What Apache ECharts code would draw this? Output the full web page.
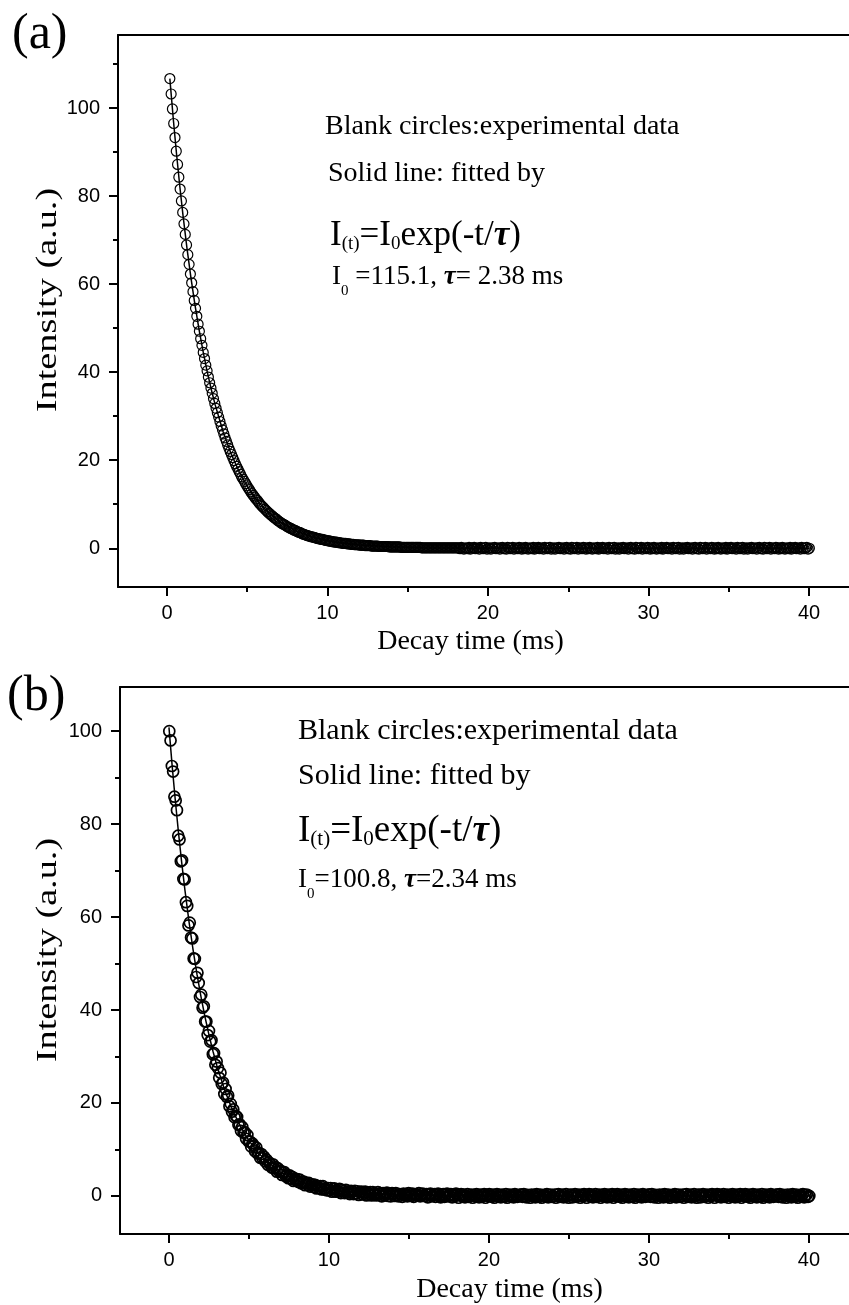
<!DOCTYPE html>
<html>
<head>
<meta charset="utf-8">
<title>Decay curves</title>
<script src="https://cdn.jsdelivr.net/npm/echarts@6/dist/echarts.min.js"></script>
<style>
html,body{margin:0;padding:0;background:#fff;}
#chart{width:849px;height:1305px;}
</style>
</head>
<body>
<div id="chart"></div>
<script>
// 衰减时间 (ms)，(b) 用全部点，(a) 从第三个点 0.18 开始
var decayTime = [
  0.02,0.1,0.18,0.26,0.34,0.42,0.5,0.58,0.66,0.74,0.82,0.9,0.98,1.06,1.14,1.22,1.3,1.38,1.46,1.54,1.62,1.7,1.78,1.86,1.94,
  2.02,2.1,2.18,2.26,2.34,2.42,2.5,2.58,2.66,2.74,2.82,2.9,2.98,3.06,3.14,3.22,3.3,3.38,3.46,3.54,3.62,3.7,3.78,3.86,3.94,
  4.02,4.1,4.18,4.26,4.34,4.42,4.5,4.58,4.66,4.74,4.82,4.9,4.98,5.06,5.14,5.22,5.3,5.38,5.46,5.54,5.62,5.7,5.78,5.86,5.94,
  6.02,6.1,6.18,6.26,6.34,6.42,6.5,6.58,6.66,6.74,6.82,6.9,6.98,7.06,7.14,7.22,7.3,7.38,7.46,7.54,7.62,7.7,7.78,7.86,7.94,
  8.02,8.1,8.18,8.26,8.34,8.42,8.5,8.58,8.66,8.74,8.82,8.9,8.98,9.06,9.14,9.22,9.3,9.38,9.46,9.54,9.62,9.7,9.78,9.86,9.94,
  10.02,10.1,10.18,10.26,10.34,10.42,10.5,10.58,10.66,10.74,10.82,10.9,10.98,11.06,11.14,11.22,11.3,11.38,11.46,11.54,11.62,11.7,11.78,11.86,11.94,
  12.02,12.1,12.18,12.26,12.34,12.42,12.5,12.58,12.66,12.74,12.82,12.9,12.98,13.06,13.14,13.22,13.3,13.38,13.46,13.54,13.62,13.7,13.78,13.86,13.94,
  14.02,14.1,14.18,14.26,14.34,14.42,14.5,14.58,14.66,14.74,14.82,14.9,14.98,15.06,15.14,15.22,15.3,15.38,15.46,15.54,15.62,15.7,15.78,15.86,15.94,
  16.02,16.1,16.18,16.26,16.34,16.42,16.5,16.58,16.66,16.74,16.82,16.9,16.98,17.06,17.14,17.22,17.3,17.38,17.46,17.54,17.62,17.7,17.78,17.86,17.94,
  18.02,18.1,18.18,18.26,18.34,18.42,18.5,18.58,18.66,18.74,18.82,18.9,18.98,19.06,19.14,19.22,19.3,19.38,19.46,19.54,19.62,19.7,19.78,19.86,19.94,
  20.02,20.1,20.18,20.26,20.34,20.42,20.5,20.58,20.66,20.74,20.82,20.9,20.98,21.06,21.14,21.22,21.3,21.38,21.46,21.54,21.62,21.7,21.78,21.86,21.94,
  22.02,22.1,22.18,22.26,22.34,22.42,22.5,22.58,22.66,22.74,22.82,22.9,22.98,23.06,23.14,23.22,23.3,23.38,23.46,23.54,23.62,23.7,23.78,23.86,23.94,
  24.02,24.1,24.18,24.26,24.34,24.42,24.5,24.58,24.66,24.74,24.82,24.9,24.98,25.06,25.14,25.22,25.3,25.38,25.46,25.54,25.62,25.7,25.78,25.86,25.94,
  26.02,26.1,26.18,26.26,26.34,26.42,26.5,26.58,26.66,26.74,26.82,26.9,26.98,27.06,27.14,27.22,27.3,27.38,27.46,27.54,27.62,27.7,27.78,27.86,27.94,
  28.02,28.1,28.18,28.26,28.34,28.42,28.5,28.58,28.66,28.74,28.82,28.9,28.98,29.06,29.14,29.22,29.3,29.38,29.46,29.54,29.62,29.7,29.78,29.86,29.94,
  30.02,30.1,30.18,30.26,30.34,30.42,30.5,30.58,30.66,30.74,30.82,30.9,30.98,31.06,31.14,31.22,31.3,31.38,31.46,31.54,31.62,31.7,31.78,31.86,31.94,
  32.02,32.1,32.18,32.26,32.34,32.42,32.5,32.58,32.66,32.74,32.82,32.9,32.98,33.06,33.14,33.22,33.3,33.38,33.46,33.54,33.62,33.7,33.78,33.86,33.94,
  34.02,34.1,34.18,34.26,34.34,34.42,34.5,34.58,34.66,34.74,34.82,34.9,34.98,35.06,35.14,35.22,35.3,35.38,35.46,35.54,35.62,35.7,35.78,35.86,35.94,
  36.02,36.1,36.18,36.26,36.34,36.42,36.5,36.58,36.66,36.74,36.82,36.9,36.98,37.06,37.14,37.22,37.3,37.38,37.46,37.54,37.62,37.7,37.78,37.86,37.94,
  38.02,38.1,38.18,38.26,38.34,38.42,38.5,38.58,38.66,38.74,38.82,38.9,38.98,39.06,39.14,39.22,39.3,39.38,39.46,39.54,39.62,39.7,39.78,39.86,39.94,
  40.02
];

// (a) 实验点强度，对应 decayTime[2] 以后
var intensityA = [
  106.7,103.2,99.8,96.5,93.3,90.2,87.2,84.3,81.6,78.9,76.3,73.7,71.3,68.9,66.7,64.5,62.3,60.3,58.3,56.3,54.5,52.7,50.9,49.3,47.6,
  46.1,44.5,43.1,41.6,40.3,38.9,37.6,36.4,35.2,34.0,32.9,31.8,30.8,29.8,28.8,27.8,26.9,26.0,25.1,24.3,23.5,22.7,22.0,21.3,20.6,
  19.9,19.2,18.6,18.0,17.4,16.8,16.2,15.7,15.2,14.7,14.2,13.7,13.3,12.8,12.4,12.0,11.6,11.2,10.9,10.5,10.1,9.8,9.5,9.2,8.9,
  8.6,8.3,8.0,7.8,7.5,7.3,7.0,6.8,6.6,6.3,6.1,5.9,5.7,5.5,5.4,5.2,5.0,4.8,4.7,4.5,4.4,4.2,4.1,4.0,3.8,
  3.7,3.6,3.5,3.3,3.2,3.1,3.0,2.9,2.8,2.7,2.6,2.6,2.5,2.4,2.3,2.2,2.2,2.1,2.0,2.0,1.9,1.8,1.8,1.7,1.7,
  1.6,1.5,1.5,1.4,1.4,1.4,1.3,1.3,1.2,1.2,1.1,1.1,1.1,1.0,1.0,1.0,0.9,0.9,0.9,0.8,0.8,0.8,0.8,0.7,0.7,
  0.7,0.7,0.6,0.6,0.6,0.6,0.6,0.5,0.5,0.5,0.5,0.5,0.5,0.4,0.4,0.4,0.4,0.4,0.4,0.4,0.4,0.3,0.3,0.3,0.3,
  0.3,0.3,0.3,0.3,0.3,0.2,0.2,0.2,0.2,0.2,0.2,0.2,0.2,0.2,0.2,0.2,0.2,0.2,0.2,0.2,0.2,0.1,0.1,0.1,0.1,
  0.1,0.1,0.1,0.1,0.1,0.1,0.1,0.1,0.1,0.1,0.1,0.1,0.1,0.1,0.1,0.1,0.1,0.1,0.1,0.1,0.1,0.1,0.1,0.1,0.1,
  0.1,-0.1,0.2,0,-0.2,0.1,0,-0.1,0.2,-0.2,0.1,0,0.2,-0.1,0,0.1,-0.2,0.2,0,-0.1,0.1,0.2,-0.2,0,0.1,
  -0.2,0.1,0,0.2,-0.1,0,0.1,-0.2,0.1,0.2,-0.1,0,-0.2,0.2,0.1,-0.1,0,0.2,-0.2,0.1,0,-0.1,0.2,0.1,-0.2,
  0.1,-0.1,0.2,0,-0.2,0.1,0,-0.1,0.2,-0.2,0.1,0,0.2,-0.1,0,0.1,-0.2,0.2,0,-0.1,0.1,0.2,-0.2,0,0.1,
  -0.2,0.1,0,0.2,-0.1,0,0.1,-0.2,0.1,0.2,-0.1,0,-0.2,0.2,0.1,-0.1,0,0.2,-0.2,0.1,0,-0.1,0.2,0.1,-0.2,
  0.1,-0.1,0.2,0,-0.2,0.1,0,-0.1,0.2,-0.2,0.1,0,0.2,-0.1,0,0.1,-0.2,0.2,0,-0.1,0.1,0.2,-0.2,0,0.1,
  -0.2,0.1,0,0.2,-0.1,0,0.1,-0.2,0.1,0.2,-0.1,0,-0.2,0.2,0.1,-0.1,0,0.2,-0.2,0.1,0,-0.1,0.2,0.1,-0.2,
  0.1,-0.1,0.2,0,-0.2,0.1,0,-0.1,0.2,-0.2,0.1,0,0.2,-0.1,0,0.1,-0.2,0.2,0,-0.1,0.1,0.2,-0.2,0,0.1,
  -0.2,0.1,0,0.2,-0.1,0,0.1,-0.2,0.1,0.2,-0.1,0,-0.2,0.2,0.1,-0.1,0,0.2,-0.2,0.1,0,-0.1,0.2,0.1,-0.2,
  0.1,-0.1,0.2,0,-0.2,0.1,0,-0.1,0.2,-0.2,0.1,0,0.2,-0.1,0,0.1,-0.2,0.2,0,-0.1,0.1,0.2,-0.2,0,0.1,
  -0.2,0.1,0,0.2,-0.1,0,0.1,-0.2,0.1,0.2,-0.1,0,-0.2,0.2,0.1,-0.1,0,0.2,-0.2,0.1,0,-0.1,0.2,0.1,-0.2,
  0.1,-0.1,0.2,0,-0.2,0.1,0,-0.1,0.2,-0.2,0.1,0,0.2,-0.1,0,0.1,-0.2,0.2,0,-0.1,0.1,0.2,-0.2,0
];

// (b) 实验点强度，对应全部 decayTime
var intensityB = [
  100.0,98.0,92.5,91.3,85.9,85.1,83.0,77.5,76.7,72.0,72.2,68.2,68.1,63.2,62.4,58.2,58.8,55.6,55.4,51.1,51.0,47.1,48.0,45.8,42.8,
  43.3,40.5,40.8,37.5,37.5,34.6,35.5,33.2,33.5,30.5,30.7,28.2,28.9,27.5,25.4,26.5,24.1,24.4,21.9,23.0,21.3,21.6,19.3,19.8,18.1,
  18.6,16.9,17.2,17.0,15.3,15.4,14.0,14.8,13.6,13.7,12.3,13.1,11.7,11.7,10.6,11.3,10.8,9.6,10.4,9.1,9.3,8.2,9.0,8.1,8.4,
  7.4,7.8,6.7,7.2,6.8,6.1,6.8,5.9,6.2,5.2,5.9,5.2,5.4,4.5,5.0,5.1,4.2,4.4,3.8,4.4,3.7,4.1,3.2,3.7,3.3,
  3.6,3.0,3.5,2.7,3.0,3.1,2.3,2.8,2.4,2.8,2.0,2.4,2.5,1.9,2.4,1.6,2.1,1.7,2.1,1.4,2.1,1.4,1.6,1.2,1.7,
  1.2,1.7,0.9,1.5,1.6,0.9,1.2,0.9,1.5,0.6,1.3,1.0,0.6,1.3,0.7,1.0,0.4,1.1,0.9,0.4,1.1,0.5,1.0,0.2,0.8,
  0.9,0.3,0.7,0.9,0.1,0.7,0.4,0.8,0.1,0.8,0.2,0.5,0.1,0.8,0.3,0.6,-0.1,0.6,0.1,0.4,0.7,0,0.5,-0.1,0.6,
  0.5,0,0.6,0.2,-0.1,0.4,0.3,-0.2,0.5,0.1,0.4,-0.1,0.6,0.3,0,0.5,-0.2,0.2,0.4,0.1,0.6,-0.1,0.3,0.5,0,
  0,0.4,-0.3,0.3,0.5,-0.1,0.1,0.4,-0.2,0.2,0.5,0,-0.3,0.3,0.4,-0.2,0.2,0.5,-0.1,0.1,0.4,-0.3,0.3,0,0.5,
  0.2,-0.4,0.1,0.4,-0.1,0.3,-0.3,0,0.4,-0.2,0.1,0.3,-0.4,0.2,-0.1,0.4,0,-0.3,0.3,-0.2,0.1,0.4,-0.4,0.2,0,
  0.4,0,-0.2,0.3,-0.4,0.1,0.4,-0.1,0.2,-0.3,0.3,0,-0.2,0.4,-0.4,0.1,0.3,-0.1,0.2,-0.3,0.4,0.1,-0.2,0,0.3,
  0.3,-0.2,0.4,0,-0.3,0.2,0.1,-0.4,0.3,-0.1,0.2,-0.3,0.4,0.1,-0.2,0.3,-0.4,0,0.2,-0.1,0.4,-0.3,0.1,0.3,-0.2,
  -0.1,0.3,-0.4,0.2,0.4,-0.2,0,0.3,-0.3,0.1,0.4,-0.1,-0.4,0.2,0.3,-0.3,0.1,0.4,-0.2,0,0.3,-0.4,0.2,-0.1,0.4,
  0.2,-0.4,0.1,0.4,-0.1,0.3,-0.3,0,0.4,-0.2,0.1,0.3,-0.4,0.2,-0.1,0.4,0,-0.3,0.3,-0.2,0.1,0.4,-0.4,0.2,0,
  0.4,0,-0.2,0.3,-0.4,0.1,0.4,-0.1,0.2,-0.3,0.3,0,-0.2,0.4,-0.4,0.1,0.3,-0.1,0.2,-0.3,0.4,0.1,-0.2,0,0.3,
  0.3,-0.2,0.4,0,-0.3,0.2,0.1,-0.4,0.3,-0.1,0.2,-0.3,0.4,0.1,-0.2,0.3,-0.4,0,0.2,-0.1,0.4,-0.3,0.1,0.3,-0.2,
  -0.1,0.3,-0.4,0.2,0.4,-0.2,0,0.3,-0.3,0.1,0.4,-0.1,-0.4,0.2,0.3,-0.3,0.1,0.4,-0.2,0,0.3,-0.4,0.2,-0.1,0.4,
  0.2,-0.4,0.1,0.4,-0.1,0.3,-0.3,0,0.4,-0.2,0.1,0.3,-0.4,0.2,-0.1,0.4,0,-0.3,0.3,-0.2,0.1,0.4,-0.4,0.2,0,
  0.4,0,-0.2,0.3,-0.4,0.1,0.4,-0.1,0.2,-0.3,0.3,0,-0.2,0.4,-0.4,0.1,0.3,-0.1,0.2,-0.3,0.4,0.1,-0.2,0,0.3,
  0.3,-0.2,0.4,0,-0.3,0.2,0.1,-0.4,0.3,-0.1,0.2,-0.3,0.4,0.1,-0.2,0.3,-0.4,0,0.2,-0.1,0.4,-0.3,0.1,0.3,-0.2,
  0
];

// 拟合实线
var fitTimeA = [0.18,0.4,0.6,0.8,1,1.25,1.5,1.75,2,2.25,2.5,2.75,3,3.5,4,4.5,5,5.5,6,7,8,9,10,11,12,14,16,18,20,25,30,40];
var fitA = [106.7,97.29,89.46,82.24,75.61,68.07,61.29,55.17,49.67,44.72,40.26,36.25,32.63,26.45,21.44,17.37,14.08,11.41,9.25,6.08,3.99,2.62,1.72,1.13,0.74,0.32,0.14,0.06,0.03,0,0,0];
var fitTimeB = [0,0.2,0.4,0.6,0.8,1,1.25,1.5,1.75,2,2.25,2.5,2.75,3,3.5,4,4.5,5,5.5,6,7,8,9,10,11,12,14,16,18,20,25,30,40];
var fitB = [100.8,92.54,84.96,78.00,71.61,65.74,59.08,53.10,47.71,42.88,38.54,34.63,31.12,27.97,22.59,18.24,14.73,11.90,9.61,7.76,5.06,3.30,2.15,1.40,0.92,0.60,0.25,0.11,0.05,0.02,0,0,0];

// 刻度
var xMajor = [0,10,20,30,40];
var xMinor = [5,15,25,35];
var yMajor = [0,20,40,60,80,100];
var yMinorA = [10,30,50,70,90,110];
var yMinorB = [10,30,50,70,90];

var serif = "'Liberation Serif','Times New Roman',serif";
var sans = "'Liberation Sans',Arial,sans-serif";

function pairs(t, v) {
  var out = [];
  for (var i = 0; i < v.length; i++) out.push([t[i], v[i]]);
  return out;
}

// 每个 grid 三根 x 轴: 主刻度+标签, 次刻度, 顶部边框线
function xAxes(g, lo, hi, gap, namePad) {
  return [{
    gridIndex: g, type: 'value', position: 'bottom', min: lo, max: hi,
    axisLine: {onZero: false, lineStyle: {color: '#000', width: 2}},
    axisTick: {length: 9, lineStyle: {color: '#000', width: 2}, customValues: xMajor},
    axisLabel: {customValues: xMajor, color: '#000', fontFamily: sans, fontSize: 20, margin: 16},
    splitLine: {show: false},
    name: 'Decay time (ms)', nameLocation: 'middle', nameGap: gap,
    nameTextStyle: {fontFamily: serif, fontSize: 28, color: '#000', padding: namePad}
  }, {
    gridIndex: g, type: 'value', position: 'bottom', min: lo, max: hi,
    axisLine: {show: false, onZero: false},
    axisTick: {length: 5, lineStyle: {color: '#000', width: 2}, customValues: xMinor},
    axisLabel: {show: false},
    splitLine: {show: false}
  }, {
    gridIndex: g, type: 'value', position: 'top', min: lo, max: hi,
    axisLine: {show: true, onZero: false, lineStyle: {color: '#000', width: 2}},
    axisTick: {show: false}, axisLabel: {show: false}, splitLine: {show: false}
  }];
}

function yAxes(g, lo, hi, minor) {
  return [{
    gridIndex: g, type: 'value', position: 'left', min: lo, max: hi,
    axisLine: {show: true, onZero: false, lineStyle: {color: '#000', width: 2}},
    axisTick: {show: true, length: 9, lineStyle: {color: '#000', width: 2}, customValues: yMajor},
    axisLabel: {customValues: yMajor, color: '#000', fontFamily: sans, fontSize: 20, margin: 18},
    splitLine: {show: false}
  }, {
    gridIndex: g, type: 'value', position: 'left', min: lo, max: hi,
    axisLine: {show: false, onZero: false},
    axisTick: {show: true, length: 5, lineStyle: {color: '#000', width: 2}, customValues: minor},
    axisLabel: {show: false},
    splitLine: {show: false}
  }];
}

function line(x, y, text, size) {
  return {type: 'text', x: x, y: y, style: {text: text, fill: '#000', fontFamily: serif, fontSize: size, align: 'left', verticalAlign: 'middle'}};
}

function richLine(x, y, text, size, lh, sub, subLh) {
  return {
    type: 'text', x: x, y: y,
    style: {
      text: text, fill: '#000', fontFamily: serif, fontSize: size, align: 'left', verticalAlign: 'middle',
      rich: {
        m: {fontFamily: serif, fontSize: size, lineHeight: lh, fill: '#000'},
        s: {fontFamily: serif, fontSize: sub, lineHeight: subLh, verticalAlign: 'bottom', fill: '#000'},
        tau: {fontFamily: serif, fontSize: size, lineHeight: lh, fontStyle: 'italic', fontWeight: 'bold', fill: '#000'}
      }
    }
  };
}

// 纵轴标题: 竖排, 沿文字方向拉长
function yTitle(x, y) {
  return {type: 'text', x: x, y: y, rotation: Math.PI / 2, scaleX: 1.32,
    style: {text: 'Intensity (a.u.)', fill: '#000', fontFamily: serif, fontSize: 29, align: 'center', verticalAlign: 'middle'}};
}

var myChart = echarts.init(document.getElementById('chart'));
var option = {
  animation: false,
  backgroundColor: '#fff',
  grid: [
    {left: 118, top: 35, right: 0, height: 552},
    {left: 120, top: 687, right: 0, height: 548}
  ],
  xAxis: xAxes(0, -3.05, 42.49, 41, [0, 26, 0, 0]).concat(xAxes(1, -3.06, 42.5, 42, [0, 0, 0, 50])),
  yAxis: yAxes(0, -8.8, 116.6, yMinorA).concat(yAxes(1, -8.2, 109.5, yMinorB)),
  series: [
    {type: 'scatter', xAxisIndex: 0, yAxisIndex: 0, data: pairs(decayTime.slice(2), intensityA),
     symbol: 'circle', symbolSize: 10, itemStyle: {color: 'rgba(0,0,0,0)', borderColor: '#000', borderWidth: 1.2, opacity: 1},
     silent: true, z: 2},
    {type: 'line', xAxisIndex: 0, yAxisIndex: 0, data: pairs(fitTimeA, fitA),
     showSymbol: false, symbol: 'none', lineStyle: {color: '#000', width: 1.5}, silent: true, z: 3},
    {type: 'scatter', xAxisIndex: 3, yAxisIndex: 2, data: pairs(decayTime, intensityB),
     symbol: 'circle', symbolSize: 11, itemStyle: {color: 'rgba(0,0,0,0)', borderColor: '#000', borderWidth: 1.7, opacity: 1},
     silent: true, z: 2},
    {type: 'line', xAxisIndex: 3, yAxisIndex: 2, data: pairs(fitTimeB, fitB),
     showSymbol: false, symbol: 'none', lineStyle: {color: '#000', width: 1.5}, silent: true, z: 3}
  ],
  graphic: [
    {type: 'text', x: 12, y: 35, style: {text: '(a)', fill: '#000', fontFamily: serif, fontSize: 50, align: 'left', verticalAlign: 'middle'}},
    yTitle(48, 300),
    line(325, 127, 'Blank circles:experimental data', 28),
    line(328, 174, 'Solid line: fitted by', 28),
    richLine(330, 236, '{m|I}{s|(t)}{m|=I}{s|0}{m|exp(-t/}{tau|τ}{m|)}', 35, 36, 19, 19),
    richLine(332, 277, '{m|I}{s|0}{m| =115.1, }{tau|τ}{m|= 2.38 ms}', 27, 44, 15, 15),

    {type: 'text', x: 7, y: 697, style: {text: '(b)', fill: '#000', fontFamily: serif, fontSize: 50, align: 'left', verticalAlign: 'middle'}},
    yTitle(48, 950),
    line(298, 731, 'Blank circles:experimental data', 30),
    line(298, 776, 'Solid line: fitted by', 30),
    richLine(298, 831, '{m|I}{s|(t)}{m|=I}{s|0}{m|exp(-t/}{tau|τ}{m|)}', 37, 38, 21, 21),
    richLine(298, 880, '{m|I}{s|0}{m|=100.8, }{tau|τ}{m|=2.34 ms}', 27, 44, 15, 15)
  ]
};
myChart.setOption(option);

window.addEventListener('resize', function () {
  myChart.resize();
});
</script>
</body>
</html>
